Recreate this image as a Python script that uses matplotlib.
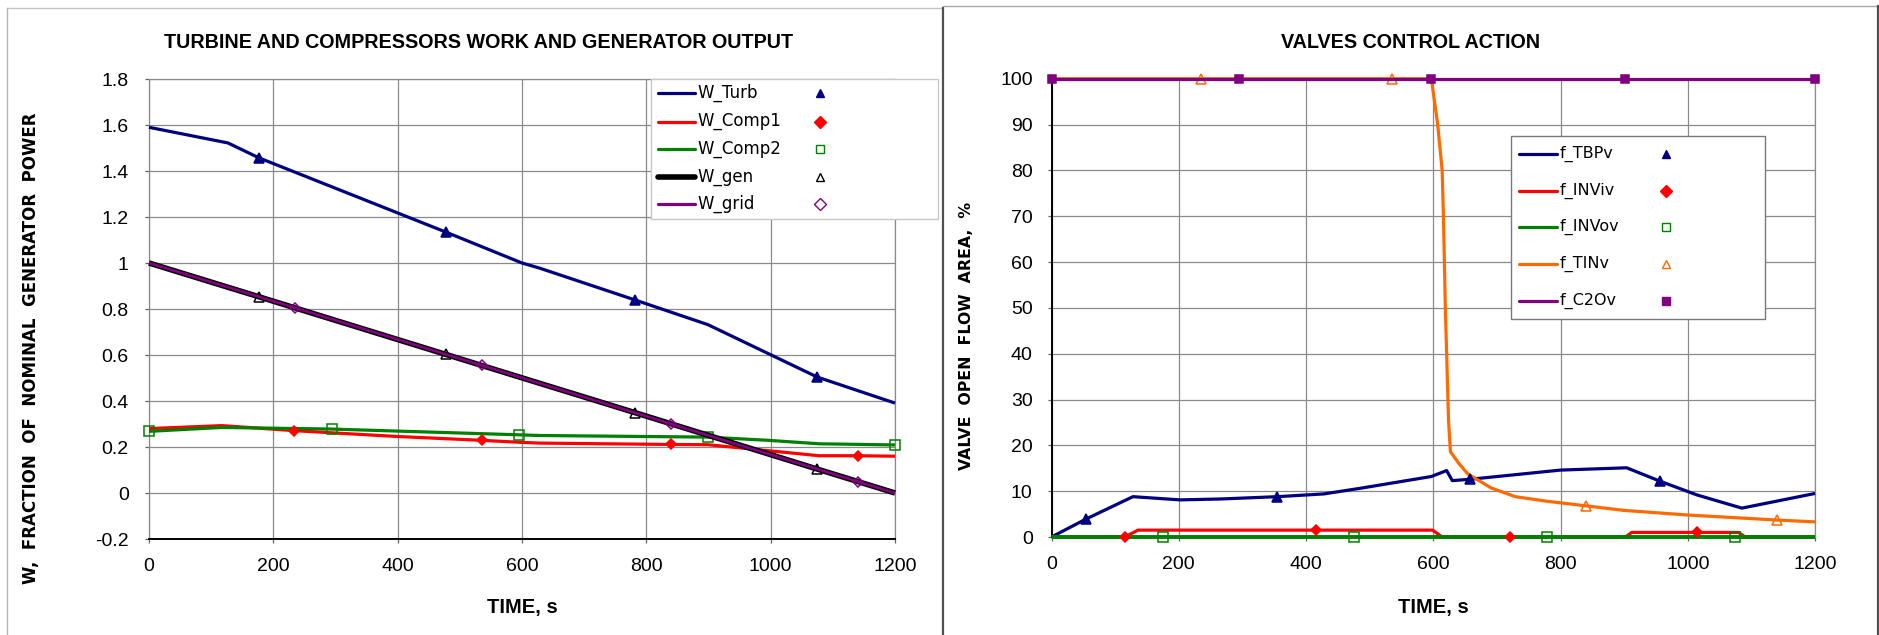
import numpy as np
import matplotlib
matplotlib.use("Agg")
import matplotlib.pyplot as plt
from matplotlib.lines import Line2D
from matplotlib.patches import Rectangle

# ---------------- data: turbine / compressors / generator ----------------
turb_t = [0, 127, 177, 477, 600, 628, 781, 899, 1075, 1200]
turb_v = [1.59, 1.522, 1.457, 1.135, 1.0, 0.978, 0.84, 0.732, 0.504, 0.391]
turb_mk = [177, 477, 781, 1075]

comp1_t = [0, 117, 234, 397, 535, 600, 628, 840, 899, 1078, 1140, 1200]
comp1_v = [0.28, 0.293, 0.271, 0.246, 0.229, 0.22, 0.217, 0.211, 0.21, 0.162, 0.162, 0.16]
comp1_mk = [234, 535, 840, 1140]

comp2_t = [0, 117, 294, 595, 628, 899, 996, 1078, 1200]
comp2_v = [0.268, 0.285, 0.278, 0.253, 0.25, 0.243, 0.229, 0.214, 0.209]
comp2_mk = [0, 294, 595, 899, 1200]

gen_t = [0, 177, 477, 781, 1075, 1200]
gen_v = [1.0, 0.853, 0.603, 0.35, 0.104, 0.0]
gen_mk = [177, 477, 781, 1075]

grid_t = [0, 235, 535, 840, 1140, 1200]
grid_v = [1.0, 0.805, 0.555, 0.30, 0.05, 0.0]
grid_mk = [235, 535, 840, 1140]

# ---------------- data: valve openings (%) ----------------
tbp_t = [0, 54, 128, 202, 267, 355, 428, 484, 597, 621, 630, 658, 800, 904, 956, 1014, 1085, 1200]
tbp_v = [0, 3.9, 8.8, 8.1, 8.3, 8.8, 9.4, 10.6, 13.2, 14.5, 12.3, 12.6, 14.6, 15.1, 12.2, 9.2, 6.3, 9.5]
tbp_mk = [54, 355, 658, 956]

inviv_t = [0, 115, 136, 415, 599, 614, 720, 902, 912, 1015, 1080, 1090, 1200]
inviv_v = [0, 0, 1.5, 1.5, 1.5, 0, 0, 0, 1.0, 1.0, 1.0, 0, 0]
inviv_mk = [115, 415, 720, 1015]

invov_t = [0, 175, 475, 779, 1075, 1200]
invov_v = [0, 0, 0, 0, 0, 0]
invov_mk = [175, 475, 779, 1075]

tin_t = [0, 235, 535, 597, 607, 614, 616, 619, 624, 627, 640, 654, 691, 729, 779, 840, 900, 1000, 1140, 1200]
tin_v = [100, 100, 100, 100, 90, 80, 70, 50, 25.5, 18.6, 16.1, 13.8, 10.7, 8.8, 7.8, 6.8, 5.8, 4.8, 3.7, 3.3]
tin_mk = [235, 535, 840, 1140]

c2o_t = [0, 295, 596, 901, 1200]
c2o_v = [100, 100, 100, 100, 100]
c2o_mk = [0, 295, 596, 901, 1200]

x_ticks = [0, 200, 400, 600, 800, 1000, 1200]
w_ticks = [-0.2, 0, 0.2, 0.4, 0.6, 0.8, 1.0, 1.2, 1.4, 1.6, 1.8]
w_tick_labels = ["-0.2", "0", "0.2", "0.4", "0.6", "0.8", "1", "1.2", "1.4", "1.6", "1.8"]
f_ticks = [0, 10, 20, 30, 40, 50, 60, 70, 80, 90, 100]

# ---------------- styling ----------------
NAVY, RED, GREEN, BLACK, PURPLE, ORANGE = "#000080", "#ff0000", "#008000", "#000000", "#800080", "#ff6a00"
NARROW = ["Liberation Sans", "DejaVu Sans"]
WIDE = ["DejaVu Sans"]
GRIDC = "#8a8a8a"

W, H = 1879, 635
fig = plt.figure(figsize=(W / 100, H / 100), dpi=100)
fig.patch.set_facecolor("white")


def fx(px):
    return px / W


def fy(py):
    return 1 - py / H


def axes_px(x0, x1, ytop, ybot):
    return fig.add_axes([fx(x0), fy(ybot), (x1 - x0) / W, (ybot - ytop) / H])


def series(ax, t, v, mk, color, lw, marker, mfc, mec, ms, z):
    idx = [i for i, tt in enumerate(t) if tt in mk]
    ax.plot(t, v, color=color, lw=lw, zorder=z, solid_joinstyle="round", solid_capstyle="butt",
            clip_on=False)
    ax.plot(np.asarray(t)[idx], np.asarray(v)[idx], ls="none", marker=marker, ms=ms,
            mfc=mfc, mec=mec, mew=1.1, zorder=z + 0.5, clip_on=False)


def style_axes(ax, yt, ylabels, ylim, ypad):
    ax.set_xlim(0, 1200)
    ax.set_ylim(*ylim)
    ax.set_xticks(x_ticks)
    ax.set_xticklabels([str(x) for x in x_ticks], fontfamily=NARROW, fontsize=14)
    ax.set_yticks(yt)
    ax.set_yticklabels(ylabels, fontfamily=NARROW, fontsize=14)
    ax.grid(True, color=GRIDC, lw=0.9, zorder=0)
    ax.set_axisbelow(True)
    ax.tick_params(direction="out", length=3, width=0.9, color="#606060")
    ax.tick_params(axis="x", pad=11)
    ax.tick_params(axis="y", pad=ypad)
    for s in ax.spines.values():
        s.set_color(GRIDC)
        s.set_linewidth(0.9)


def legend_box(x0, y0, x1, y1, edge, rows, row_y, line_x, text_x, mark_x, fsize):
    fig.add_artist(Rectangle((fx(x0), fy(y1)), (x1 - x0) / W, (y1 - y0) / H,
                             transform=fig.transFigure, facecolor="white",
                             edgecolor=edge, lw=1.0, zorder=10))
    for (label, color, lw, marker, mfc, mec), yy in zip(rows, row_y):
        fig.add_artist(Line2D([fx(line_x[0]), fx(line_x[1])], [fy(yy), fy(yy)],
                              transform=fig.transFigure, color=color, lw=lw, zorder=11,
                              solid_capstyle="round"))
        fig.text(fx(text_x), fy(yy), label, fontsize=fsize, family=WIDE,
                 va="center", ha="left", zorder=11)
        fig.add_artist(Line2D([fx(mark_x)], [fy(yy)], transform=fig.transFigure, ls="none",
                              marker=marker, ms=6, mfc=mfc, mec=mec, mew=1.0, zorder=11))


# ---------------- left chart ----------------
ax1 = axes_px(149, 895, 79, 539)
style_axes(ax1, w_ticks, w_tick_labels, (-0.2, 1.8), 11.5)
ax1.spines["bottom"].set_color("black")
ax1.spines["bottom"].set_linewidth(1.4)
series(ax1, turb_t, turb_v, turb_mk, NAVY, 2.3, "^", NAVY, NAVY, 7, 3)
series(ax1, comp1_t, comp1_v, comp1_mk, RED, 2.3, "D", RED, RED, 5.5, 3)
series(ax1, comp2_t, comp2_v, comp2_mk, GREEN, 2.3, "s", "none", GREEN, 7, 3)
series(ax1, gen_t, gen_v, gen_mk, BLACK, 4.0, "^", "none", BLACK, 7, 4)
series(ax1, grid_t, grid_v, grid_mk, PURPLE, 2.0, "D", "none", PURPLE, 5.5, 5)

fig.text(fx(479), fy(43), "TURBINE AND COMPRESSORS WORK AND GENERATOR OUTPUT",
         family=NARROW, fontweight="bold", fontsize=14.2, ha="center", va="center")
fig.text(fx(522), fy(608), "TIME, s", family=NARROW, fontweight="bold", fontsize=14.5,
         ha="center", va="center")
fig.text(fx(31), fy(348), "W,  FRACTION  OF  NOMINAL  GENERATOR  POWER", family=WIDE,
         fontweight="bold", fontsize=12, rotation=90, ha="center", va="center")

legend_box(651, 79, 938, 219, "#c8c8c8",
           [("W_Turb", NAVY, 2.3, "^", NAVY, NAVY),
            ("W_Comp1", RED, 2.3, "D", RED, RED),
            ("W_Comp2", GREEN, 2.3, "s", "none", GREEN),
            ("W_gen", BLACK, 4.0, "^", "none", BLACK),
            ("W_grid", PURPLE, 2.3, "D", "none", PURPLE)],
           [93, 121.5, 149, 177, 204], (658, 695), 697, 820, 12)

# ---------------- right chart ----------------
ax2 = axes_px(1051.5, 1815, 78.7, 537)
style_axes(ax2, f_ticks, [str(v) for v in f_ticks], (0, 100), 10.5)
ax2.spines["left"].set_color("black")
ax2.spines["left"].set_linewidth(1.4)
series(ax2, tbp_t, tbp_v, tbp_mk, NAVY, 2.3, "^", NAVY, NAVY, 7, 3)
series(ax2, inviv_t, inviv_v, inviv_mk, RED, 2.3, "D", RED, RED, 5.5, 3)
series(ax2, invov_t, invov_v, invov_mk, GREEN, 2.8, "s", "none", GREEN, 7, 3)
series(ax2, tin_t, tin_v, tin_mk, ORANGE, 2.3, "^", "none", ORANGE, 7, 3)
series(ax2, c2o_t, c2o_v, c2o_mk, PURPLE, 2.3, "s", PURPLE, PURPLE, 6, 4)

fig.text(fx(1411), fy(43), "VALVES CONTROL ACTION", family=NARROW, fontweight="bold",
         fontsize=14.2, ha="center", va="center")
fig.text(fx(1433), fy(608), "TIME, s", family=NARROW, fontweight="bold", fontsize=14.5,
         ha="center", va="center")
fig.text(fx(967), fy(336), "VALVE  OPEN  FLOW  AREA,  %", family=WIDE, fontweight="bold",
         fontsize=11.3, rotation=90, ha="center", va="center")

legend_box(1511, 136, 1765, 319, "#7a7a7a",
           [("f_TBPv", NAVY, 2.3, "^", NAVY, NAVY),
            ("f_INViv", RED, 2.3, "D", RED, RED),
            ("f_INVov", GREEN, 2.3, "s", "none", GREEN),
            ("f_TINv", ORANGE, 2.3, "^", "none", ORANGE),
            ("f_C2Ov", PURPLE, 2.3, "s", PURPLE, PURPLE)],
           [154, 190.7, 227.3, 264, 301], (1519, 1557), 1560, 1666, 11.5)


# ---------------- panel frames ----------------
def frame_line(xs, ys, color, lw):
    fig.add_artist(Line2D([fx(x) for x in xs], [fy(y) for y in ys], transform=fig.transFigure,
                          color=color, lw=lw, zorder=20))


frame_line([7, 7], [8, 635], "#b4b4b4", 1.0)
frame_line([7, 942], [8, 8], "#c4c4c4", 1.0)
frame_line([942.5, 942.5], [8, 635], "#505050", 1.6)
frame_line([943, 1878], [6, 6], "#a8a8a8", 1.0)
frame_line([1877.5, 1877.5], [6, 635], "#505050", 1.6)

fig.savefig("out.png", dpi=100, facecolor="white")
